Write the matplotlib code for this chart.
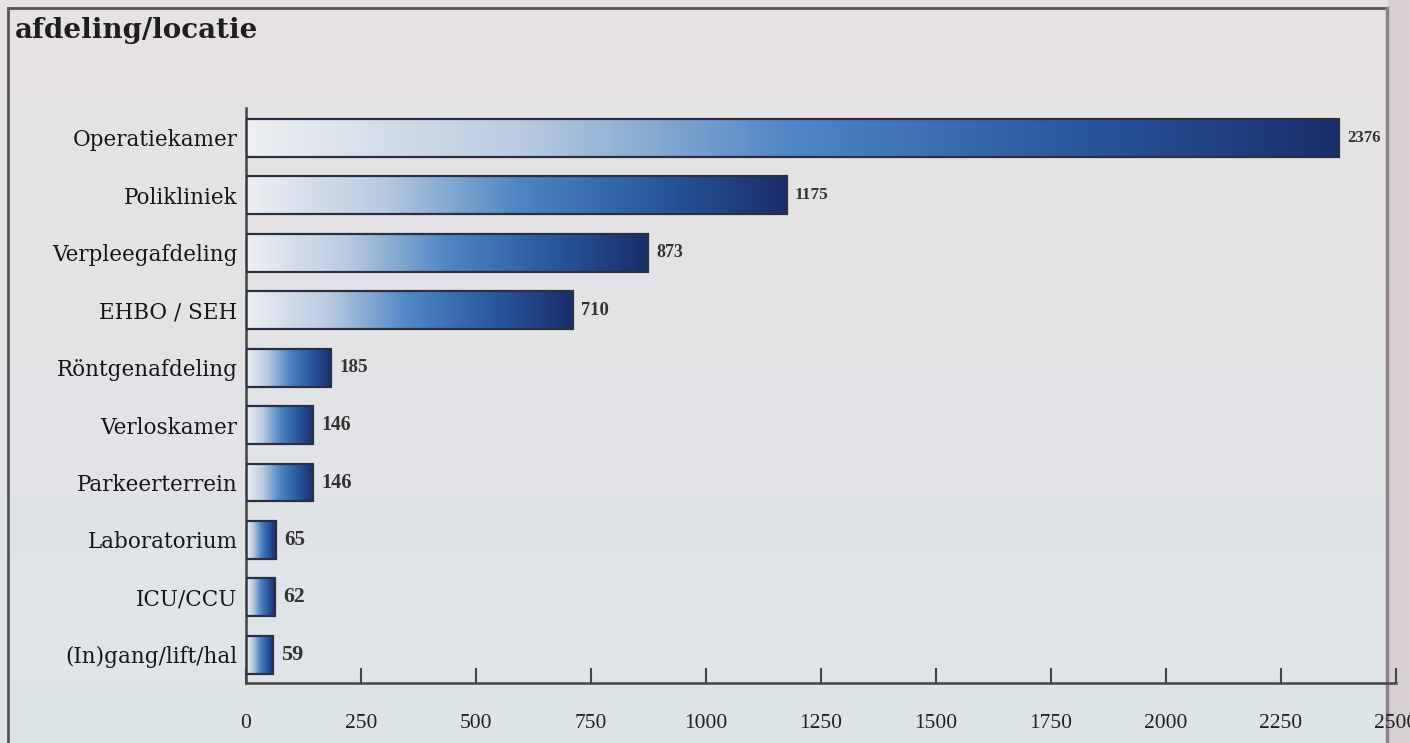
import numpy as np
import matplotlib
matplotlib.use("Agg")
import matplotlib.pyplot as plt
from matplotlib.colors import LinearSegmentedColormap
from matplotlib.patches import Rectangle
from matplotlib.lines import Line2D

# ---- data ----
title = "afdeling/locatie"
categories = ["Operatiekamer", "Polikliniek", "Verpleegafdeling", "EHBO / SEH",
              "Röntgenafdeling", "Verloskamer", "Parkeerterrein", "Laboratorium",
              "ICU/CCU", "(In)gang/lift/hal"]
values = [2376, 1175, 873, 710, 185, 146, 146, 65, 62, 59]
xticks = [0, 250, 500, 750, 1000, 1250, 1500, 1750, 2000, 2250, 2500]

W, H = 1410, 743
fig = plt.figure(figsize=(W / 100, H / 100), dpi=100)
fig.patch.set_facecolor("#d9d3d6")

# background (slide) gradient
bg = fig.add_axes([0, 0, 1, 1], zorder=-10)
bg.set_axis_off()
bgcmap = LinearSegmentedColormap.from_list("bg", ["#e7e2e4", "#e3e3e6", "#dde5e8"])
grad = np.linspace(0, 1, 256).reshape(-1, 1)
bg.imshow(grad, cmap=bgcmap, aspect="auto", extent=[0, 1, 0, 1], origin="upper")
bg.set_xlim(0, 1)
bg.set_ylim(0, 1)
# frame of the slide
bg.add_line(Line2D([8 / W, 1387 / W], [1 - 8 / H, 1 - 8 / H], color="#555555", lw=2))
bg.add_line(Line2D([8 / W, 8 / W], [1 - 8 / H, 0], color="#555555", lw=2))
bg.add_line(Line2D([1387 / W, 1387 / W], [1 - 8 / H, 0], color="#8a8486", lw=2.5))
bg.add_patch(Rectangle((1388 / W, 0), 1 - 1388 / W, 1, color="#d8cfd2", zorder=0))

fig.text(15 / W, 1 - 31 / H, title, fontsize=20, fontweight="bold",
         family="DejaVu Serif", color="#1e1e1e", va="center", ha="left")

left, right = 246 / W, 1396 / W
bottom, top = 1 - 683 / H, 1 - 108 / H
ax = fig.add_axes([left, bottom, right - left, top - bottom])
ax.patch.set_alpha(0)

y = np.arange(len(categories))
bar_h = 0.66
bars = ax.barh(y, values, height=bar_h, facecolor="none",
               edgecolor="#2a2f45", linewidth=1.6, zorder=3)

cmap = LinearSegmentedColormap.from_list(
    "bar", ["#eef0f3", "#b9cbe0", "#4f86c3", "#2a5aa0", "#1a2e6a"])
hgrad = np.linspace(0, 1, 256).reshape(1, -1)
for b in bars:
    x0, y0 = b.get_x(), b.get_y()
    w, h = b.get_width(), b.get_height()
    im = ax.imshow(hgrad, cmap=cmap, aspect="auto",
                   extent=[x0, x0 + w, y0 + h, y0], zorder=2, interpolation="bicubic")
    im.set_clip_path(b)

ax.set_xlim(0, 2500)
ax.set_ylim(len(categories) - 1 + 0.49, -0.52)

sizes = np.linspace(12, 16, len(categories))
for i, (v, b) in enumerate(zip(values, bars)):
    ax.annotate(str(v), (v, i), xytext=(6, 0), textcoords="offset points",
                va="center", ha="left", fontsize=sizes[i], family="Liberation Serif",
                fontweight="bold", color="#333333")

ax.set_yticks(y)
ax.set_yticklabels(categories, family="DejaVu Serif", fontsize=15.5, color="#161616")
ax.tick_params(axis="y", length=0, pad=6)

ax.set_xticks(xticks)
ax.set_xticklabels([str(t) for t in xticks], family="Liberation Serif",
                   fontsize=15.5, color="#222222")
ax.tick_params(axis="x", direction="in", length=11, width=1.5, color="#444444", pad=22)

for s in ["top", "right"]:
    ax.spines[s].set_visible(False)
for s in ["left", "bottom"]:
    ax.spines[s].set_color("#444444")
    ax.spines[s].set_linewidth(1.8)

fig.savefig("out.png", dpi=100, facecolor=fig.get_facecolor())
